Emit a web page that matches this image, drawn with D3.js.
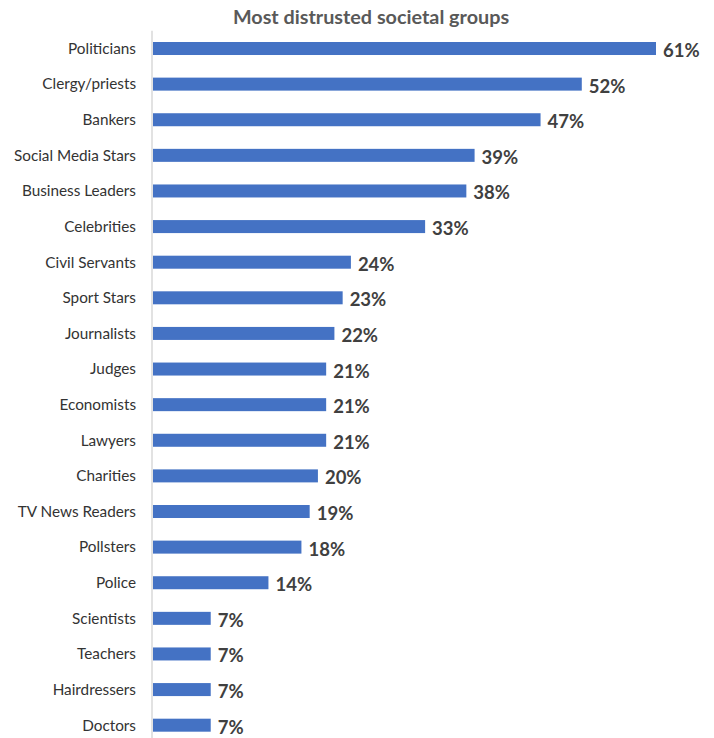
<!DOCTYPE html>
<html lang="en">
<head>
    <meta charset="UTF-8"/>
    <title>Most distrusted societal groups</title>
    <script src="https://cdn.jsdelivr.net/npm/d3@7"></script>
    <style>
        html, body {
            margin: 0;
            background: white;
        }
    </style>
</head>
<body>
<div id="container"></div>
<script>
    const groups = [
        "Politicians", "Clergy/priests", "Bankers", "Social Media Stars", "Business Leaders",
        "Celebrities", "Civil Servants", "Sport Stars", "Journalists", "Judges",
        "Economists", "Lawyers", "Charities", "TV News Readers", "Pollsters",
        "Police", "Scientists", "Teachers", "Hairdressers", "Doctors"
    ]
    const distrust = [61, 52, 47, 39, 38, 33, 24, 23, 22, 21, 21, 21, 20, 19, 18, 14, 7, 7, 7, 7]

    const width = 714
    const height = 738
    const fontFamily = "Lato, 'Open Sans', sans-serif"

    const svg = d3.select("#container")
        .append("svg")
        .attr("width", width)
        .attr("height", height)

    const x = d3.scaleLinear()
        .domain([0, 61])
        .range([153, 656])

    const y = d3.scaleBand()
        .domain(groups)
        .range([30.7, 743])
        .paddingInner(0.635)
        .paddingOuter(0.3175)

    // title
    svg.append("text")
        .attr("x", 371)
        .attr("y", 24)
        .attr("text-anchor", "middle")
        .style("font-family", fontFamily)
        .style("font-weight", "bold")
        .style("font-size", "19.8px")
        .style("fill", "#595959")
        .text("Most distrusted societal groups")

    // vertical axis line
    svg.append("line")
        .attr("x1", 152)
        .attr("x2", 152)
        .attr("y1", y.range()[0])
        .attr("y2", y.range()[1])
        .attr("stroke", "#d9d9d9")
        .attr("stroke-width", 1.5)

    const rows = groups.map((g, i) => ({group: g, value: distrust[i]}))

    svg.append("g")
        .selectAll("rect")
        .data(rows)
        .join("rect")
        .attr("x", x(0))
        .attr("y", d => y(d.group))
        .attr("width", d => x(d.value) - x(0))
        .attr("height", y.bandwidth())
        .attr("fill", "#4472c4")

    // category labels
    svg.append("g")
        .selectAll("text")
        .data(rows)
        .join("text")
        .attr("x", 136)
        .attr("y", d => y(d.group) + y.bandwidth() / 2)
        .attr("dy", "0.35em")
        .attr("text-anchor", "end")
        .style("font-family", fontFamily)
        .style("font-size", "15.3px")
        .style("fill", "#333333")
        .text(d => d.group)

    // value labels
    svg.append("g")
        .selectAll("text")
        .data(rows)
        .join("text")
        .attr("x", d => x(d.value) + 7)
        .attr("y", d => y(d.group) + y.bandwidth() / 2 + 2)
        .attr("dy", "0.35em")
        .style("font-family", fontFamily)
        .style("font-weight", "bold")
        .style("font-size", "18.5px")
        .style("fill", "#404040")
        .text(d => d.value + "%")
</script>
</body>
</html>
